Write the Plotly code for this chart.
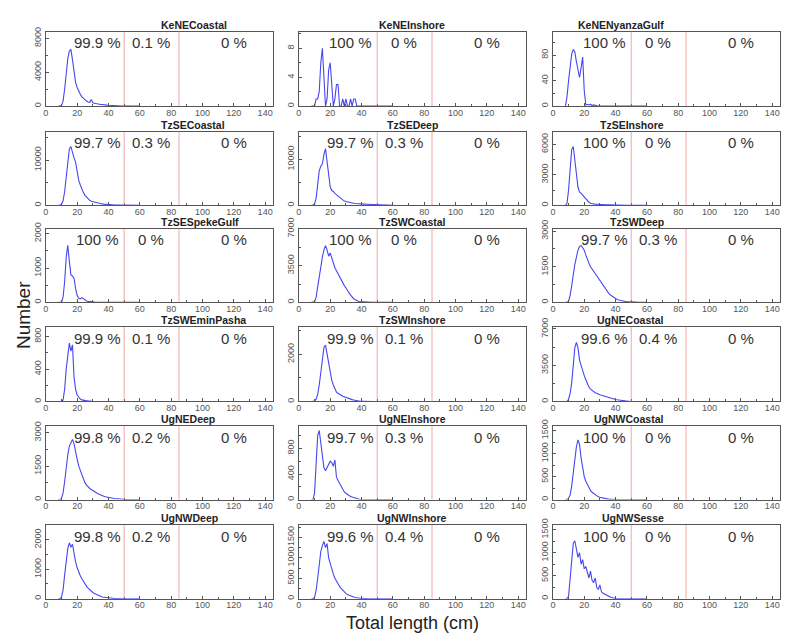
import plotly.graph_objects as go

# ---------------- data ----------------
lengths = list(range(8, 61))  # total length bins (cm), 8..60

panel_names = ["KeNECoastal", "KeNEInshore", "KeNENyanzaGulf",
               "TzSECoastal", "TzSEDeep", "TzSEInshore",
               "TzSESpekeGulf", "TzSWCoastal", "TzSWDeep",
               "TzSWEminPasha", "TzSWInshore", "UgNECoastal",
               "UgNEDeep", "UgNEInshore", "UgNWCoastal",
               "UgNWDeep", "UgNWInshore", "UgNWSesse"]

pct_below_50 = ["99.9 %", "100 %", "100 %", "99.7 %", "99.7 %", "100 %",
                "100 %", "100 %", "99.7 %", "99.9 %", "99.9 %", "99.6 %",
                "99.8 %", "99.7 %", "100 %", "99.8 %", "99.6 %", "100 %"]
pct_50_85 = ["0.1 %", "0 %", "0 %", "0.3 %", "0.3 %", "0 %",
             "0 %", "0 %", "0.3 %", "0.1 %", "0.1 %", "0.4 %",
             "0.2 %", "0.3 %", "0 %", "0.2 %", "0.4 %", "0 %"]
pct_above_85 = ["0 %"] * 18

ke_ne_coastal = [0, 0, 100, 600, 2000, 4000, 5600, 6500, 6700, 5500, 4000, 2800, 2200, 1700, 1400, 1100, 900, 700, 600, 500,
                 450, 800, 400, 350, 300, 300, 250, 200, 200, 150, 150, 120, 100, 80, 60, 50, 40, 30, 20, 20,
                 10, 10, 10, 5, 5, 0, 0, 0, 0, 0, 0, 0, 0]
ke_ne_inshore = [0, 0, 0, 1, 1, 2, 6, 8, 3, 0, 1, 5, 6, 3, 0, 1, 3, 3, 0, 0,
                 1, 0, 1, 0, 0, 1, 0, 1, 1, 0, 0, 0, 0, 0, 0, 0, 0, 0, 0, 0,
                 0, 0, 0, 0, 0, 0, 0, 0, 0, 0, 0, 0, 0]
ke_ne_nyanza_gulf = [0, 15, 40, 65, 82, 89, 85, 70, 55, 45, 60, 77, 25, 2, 3, 2, 3, 1, 2, 1,
                     0, 0, 0, 0, 0, 0, 0, 0, 0, 0, 0, 0, 0, 0, 0, 0, 0, 0, 0, 0,
                     0, 0, 0, 0, 0, 0, 0, 0, 0, 0, 0, 0, 0]
tz_se_coastal = [0, 0, 200, 1000, 3000, 6500, 10000, 12500, 13000, 12000, 10500, 9500, 7000, 5500, 4500, 3500, 2800, 2200, 1800, 1400,
                 1100, 900, 800, 650, 550, 450, 400, 350, 300, 250, 200, 180, 150, 120, 100, 80, 70, 60, 50, 40,
                 30, 25, 20, 15, 10, 10, 5, 5, 5, 0, 0, 0, 0]
tz_se_deep = [0, 0, 300, 1500, 4500, 7500, 8500, 9000, 11000, 12300, 9500, 6000, 4000, 3200, 3000, 2600, 2300, 2000, 1600, 1300,
              1100, 900, 800, 700, 600, 550, 500, 450, 400, 350, 320, 300, 280, 260, 240, 220, 200, 200, 180, 170,
              160, 150, 150, 130, 120, 110, 100, 90, 70, 50, 30, 20, 10]
tz_se_inshore = [0, 200, 1500, 4000, 5500, 5800, 4500, 3000, 1800, 1300, 1200, 1000, 800, 600, 400, 300, 200, 150, 120, 100,
                 100, 80, 80, 70, 60, 60, 50, 50, 40, 40, 30, 30, 30, 20, 10, 0, 0, 0, 0, 0,
                 0, 0, 0, 0, 0, 0, 0, 0, 0, 0, 0, 0, 0]
tz_se_speke_gulf = [0, 0, 0, 150, 600, 1300, 1660, 1200, 800, 770, 700, 400, 200, 120, 100, 140, 100, 60, 40, 30,
                    20, 10, 10, 0, 0, 0, 0, 0, 0, 0, 0, 0, 0, 0, 0, 0, 0, 0, 0, 0,
                    0, 0, 0, 0, 0, 0, 0, 0, 0, 0, 0, 0, 0]
tz_sw_coastal = [0, 0, 50, 500, 1500, 2500, 3500, 4300, 5000, 5400, 5000, 4400, 4700, 4200, 3700, 3300, 3000, 2700, 2500, 2200,
                 1900, 1600, 1400, 1100, 900, 700, 500, 350, 250, 150, 100, 80, 60, 50, 40, 30, 20, 20, 10, 10,
                 5, 5, 0, 0, 0, 0, 0, 0, 0, 0, 0, 0, 0]
tz_sw_deep = [0, 0, 50, 300, 700, 1200, 1600, 1900, 2200, 2350, 2400, 2300, 2200, 2000, 1800, 1650, 1500, 1400, 1300, 1250,
              1150, 1000, 900, 800, 700, 600, 500, 420, 350, 300, 250, 200, 150, 120, 100, 80, 60, 50, 40, 30,
              30, 20, 20, 15, 10, 10, 5, 5, 0, 0, 0, 0, 0]
tz_sw_emin_pasha = [0, 0, 0, 20, 150, 400, 600, 720, 620, 700, 300, 150, 80, 50, 30, 20, 15, 10, 10, 5,
                    5, 0, 0, 0, 0, 0, 0, 0, 0, 0, 0, 0, 0, 0, 0, 0, 0, 0, 0, 0,
                    0, 0, 0, 0, 0, 0, 0, 0, 0, 0, 0, 0, 0]
tz_sw_inshore = [0, 0, 20, 100, 300, 700, 1300, 1900, 2300, 2400, 2000, 1600, 1200, 900, 700, 550, 400, 350, 300, 250,
                 220, 200, 170, 150, 120, 100, 80, 60, 40, 30, 20, 10, 10, 5, 5, 0, 0, 0, 0, 0,
                 0, 0, 0, 0, 0, 0, 0, 0, 0, 0, 0, 0, 0]
ug_ne_coastal = [0, 0, 200, 800, 1800, 3500, 5200, 5700, 5200, 4000, 3400, 2900, 2500, 2100, 1700, 1400, 1200, 1050, 950, 850,
                 800, 700, 650, 600, 550, 500, 430, 380, 330, 280, 250, 220, 200, 170, 140, 110, 90, 70, 50, 40,
                 30, 20, 20, 15, 10, 10, 5, 5, 0, 0, 0, 0, 0]
ug_ne_deep = [0, 0, 50, 300, 800, 1500, 2000, 2400, 2600, 2700, 2500, 2100, 1800, 1500, 1300, 1100, 900, 750, 650, 550,
              500, 450, 400, 350, 300, 270, 240, 200, 180, 150, 130, 110, 100, 80, 70, 60, 50, 40, 30, 20,
              15, 10, 10, 5, 5, 0, 0, 0, 0, 0, 0, 0, 0]
ug_ne_inshore = [0, 0, 100, 500, 1000, 1080, 900, 700, 500, 450, 500, 550, 600, 580, 520, 620, 350, 300, 250, 200,
                 150, 120, 100, 80, 60, 50, 40, 30, 20, 10, 10, 5, 5, 0, 0, 0, 0, 0, 0, 0,
                 0, 0, 0, 0, 0, 0, 0, 0, 0, 0, 0, 0, 0]
ug_nw_coastal = [0, 0, 30, 100, 300, 600, 900, 1150, 1300, 1200, 900, 650, 500, 400, 320, 250, 200, 160, 130, 100,
                 80, 60, 50, 40, 30, 20, 15, 10, 5, 5, 0, 0, 0, 0, 0, 0, 0, 0, 0, 0,
                 0, 0, 0, 0, 0, 0, 0, 0, 0, 0, 0, 0, 0]
ug_nw_deep = [0, 0, 50, 300, 800, 1300, 1700, 1900, 1750, 1850, 1500, 1250, 1050, 900, 780, 680, 580, 480, 420, 360,
              300, 250, 210, 180, 150, 120, 100, 80, 60, 50, 40, 30, 20, 15, 10, 10, 5, 5, 0, 0,
              0, 0, 0, 0, 0, 0, 0, 0, 0, 0, 0, 0, 0]
ug_nw_inshore = [0, 0, 30, 200, 500, 850, 1150, 1300, 1400, 1250, 1350, 1000, 850, 700, 600, 500, 420, 350, 300, 250,
                 200, 160, 130, 100, 80, 60, 50, 40, 30, 20, 15, 10, 10, 5, 5, 0, 0, 0, 0, 0,
                 0, 0, 0, 0, 0, 0, 0, 0, 0, 0, 0, 0, 0]
ug_nw_sesse = [0, 0, 50, 400, 900, 1200, 1260, 1100, 900, 1000, 750, 850, 650, 700, 550, 450, 600, 400, 350, 450,
               250, 200, 300, 150, 120, 100, 80, 60, 40, 30, 20, 10, 5, 0, 0, 0, 0, 0, 0, 0,
               0, 0, 0, 0, 0, 0, 0, 0, 0, 0, 0, 0, 0]

panel_counts = [ke_ne_coastal, ke_ne_inshore, ke_ne_nyanza_gulf,
                tz_se_coastal, tz_se_deep, tz_se_inshore,
                tz_se_speke_gulf, tz_sw_coastal, tz_sw_deep,
                tz_sw_emin_pasha, tz_sw_inshore, ug_ne_coastal,
                ug_ne_deep, ug_ne_inshore, ug_nw_coastal,
                ug_nw_deep, ug_nw_inshore, ug_nw_sesse]

y_upper = [8800, 10.3, 117, 16300, 16000, 7260, 2140, 7000, 3100, 920, 3170, 7200,
           3300, 1150, 1600, 2500, 1800, 1600]
y_tick_step = [4000, 4, 40, 10000, 10000, 3000, 1000, 3500, 1500, 400, 2000, 3500,
               1500, 400, 500, 1000, 500, 500]

length_cutoffs = [50, 85]
x_tick_values = [0, 20, 40, 60, 80, 100, 120, 140]

# ---------------- layout geometry ----------------
W, H = 790, 636
col_px = [(43, 271), (297, 525), (552, 780)]
row_px = [(21, 97), (123, 198), (222, 297), (322, 398), (423, 498), (524, 599)]

fig = go.Figure()
layout = dict(
    width=W, height=H, margin=dict(l=0, r=0, t=0, b=0),
    paper_bgcolor="white", plot_bgcolor="white", showlegend=False,
    font=dict(family="Liberation Sans, Arial, sans-serif", color="#333"),
)
annotations = []
shapes = []

for i, name in enumerate(panel_names):
    r, c = divmod(i, 3)
    n = i + 1
    xa = "x" if n == 1 else f"x{n}"
    ya = "y" if n == 1 else f"y{n}"
    x0, x1 = col_px[c]
    t, b = row_px[r]
    fig.add_trace(go.Scatter(x=lengths, y=panel_counts[i], mode="lines",
                             line=dict(color="#4646f0", width=1.1),
                             xaxis=xa, yaxis=ya, hoverinfo="skip"))
    axis_common = dict(showline=True, mirror=True, linecolor="#555", linewidth=1,
                       showgrid=False, zeroline=False, ticks="inside", ticklen=3,
                       tickcolor="#555", tickfont=dict(size=9, color="#555"))
    layout["xaxis" if n == 1 else f"xaxis{n}"] = dict(
        axis_common, domain=[x0 / W, x1 / W], range=[0, 145], anchor=ya,
        tickvals=x_tick_values, ticklabelstandoff=-2,
        minor=dict(dtick=10, ticklen=2, ticks="inside", tickcolor="#555"))
    layout["yaxis" if n == 1 else f"yaxis{n}"] = dict(
        axis_common, domain=[1 - b / H, 1 - t / H], range=[0, y_upper[i]], anchor=xa,
        dtick=y_tick_step[i], tick0=0, tickangle=-90, exponentformat="none",
        separatethousands=False, tickformat="d",
        minor=dict(dtick=y_tick_step[i] / 2, ticklen=2, ticks="inside", tickcolor="#555"))
    for xc in length_cutoffs:
        shapes.append(dict(type="line", xref=xa, yref=f"{ya} domain", x0=xc, x1=xc, y0=0, y1=1,
                           line=dict(color="rgba(230,110,110,0.6)", width=1)))
    annotations.append(dict(text=f"<b>{name}</b>", x=(x0 + x1) / 2 / W, y=1 - (t - 7) / H,
                            xref="paper", yref="paper", showarrow=False,
                            font=dict(size=10.5, color="#222"), yanchor="middle"))
    for xpos, txt in zip([33, 67, 120], [pct_below_50[i], pct_50_85[i], pct_above_85[i]]):
        annotations.append(dict(text=txt, x=xpos, y=0.85, xref=xa, yref=f"{ya} domain",
                                showarrow=False, font=dict(size=15, color="#333"),
                                yanchor="middle"))

annotations.append(dict(text="Total length (cm)", x=411 / W, y=1 - 624 / H, xref="paper", yref="paper",
                        showarrow=False, font=dict(size=18, color="#222"), yanchor="middle"))
annotations.append(dict(text="Number", x=20 / W, y=1 - 310 / H, xref="paper", yref="paper",
                        showarrow=False, textangle=-90, font=dict(size=19, color="#222"),
                        xanchor="center", yanchor="middle"))
layout["annotations"] = annotations
layout["shapes"] = shapes
fig.update_layout(**layout)
fig.write_html("out.html")
